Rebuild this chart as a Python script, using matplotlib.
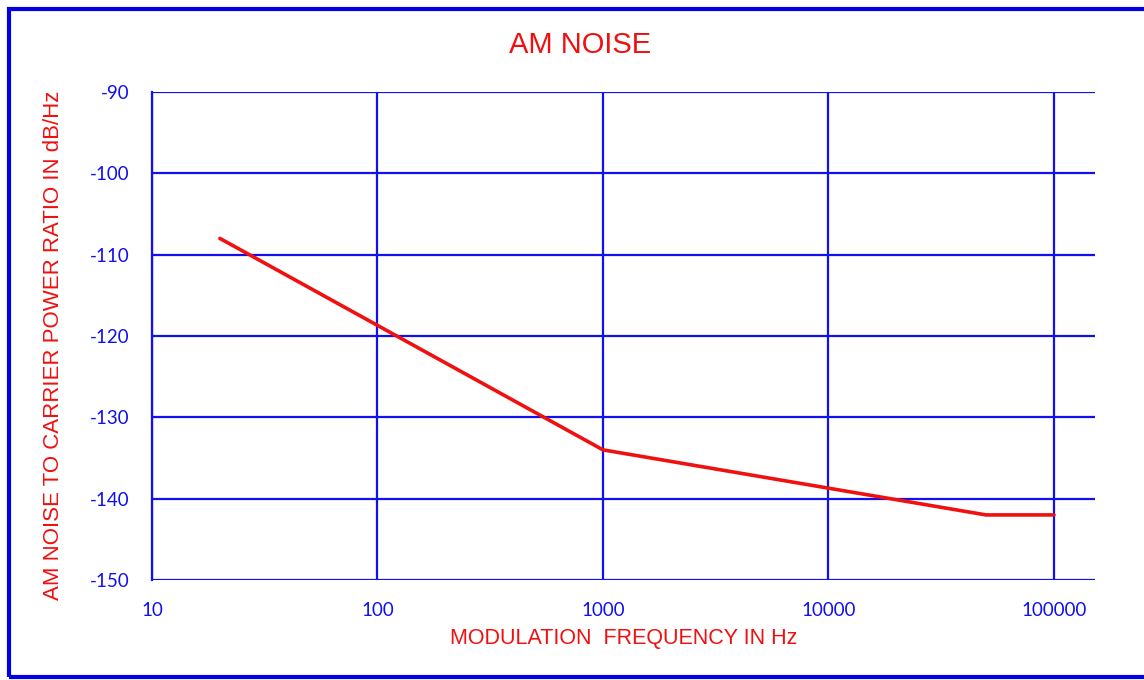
import matplotlib.pyplot as plt
from matplotlib.patches import Rectangle

# datos de la curva
freq_hz = [20, 1000, 50000, 100000]
noise_dbc = [-108, -134, -142, -142]
x_ticks = [10, 100, 1000, 10000, 100000]
y_ticks = [-90, -100, -110, -120, -130, -140, -150]

blue = '#1010f0'
red = '#f01010'
plt.rcParams['axes.unicode_minus'] = False

fig = plt.figure(figsize=(11.44, 6.8), dpi=100)
W, H = 1144, 680
ax = fig.add_axes([152 / W, 1 - 580 / H, (1095 - 152) / W, (580 - 92) / H])

ax.plot(freq_hz, noise_dbc, color=red, lw=2.6, solid_capstyle='round')

ax.set_xscale('log')
ax.set_xlim(10, 152000)
ax.set_ylim(-150, -90)
ax.set_xticks(x_ticks)
ax.set_xticklabels([str(v) for v in x_ticks])
ax.minorticks_off()
ax.set_yticks(y_ticks)

ax.grid(True, color=blue, lw=1.6)
ax.set_axisbelow(True)
for s in ['top', 'right', 'bottom']:
    ax.spines[s].set_visible(False)
ax.spines['left'].set_color(blue)
ax.spines['left'].set_linewidth(1.6)
ax.tick_params(length=0, colors=blue, labelsize=13.5)
ax.tick_params(axis='y', pad=16)
ax.tick_params(axis='x', pad=16)
for lbl in ax.get_xticklabels() + ax.get_yticklabels():
    lbl.set_fontfamily('Lato')

fig.text(580 / W, 1 - 45 / H, 'AM NOISE', color=red, fontsize=21,
         family='Liberation Sans', ha='center', va='center')
ax.set_xlabel('MODULATION  FREQUENCY IN Hz', color=red, fontsize=15.5,
              family='Liberation Sans', labelpad=6)
ax.set_ylabel('AM NOISE TO CARRIER POWER RATIO IN dB/Hz', color=red, fontsize=16,
              family='Liberation Sans')
ax.yaxis.set_label_coords(-0.093, 0.48)

# marco azul
fig.add_artist(Rectangle((8.5 / W, 1 - 677 / H), 1.2, (677 - 8.5) / H,
                         transform=fig.transFigure, fill=False, ec='#0000e0', lw=3))

fig.savefig('out.png', dpi=100)
